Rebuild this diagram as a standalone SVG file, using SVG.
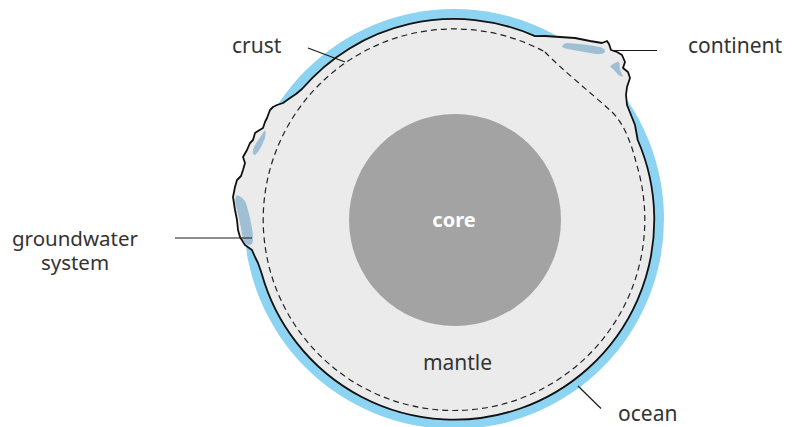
<svg xmlns="http://www.w3.org/2000/svg" width="795" height="427" viewBox="0 0 795 427">
  <style>
    .label { font-family: "Noto Sans", "Liberation Sans", sans-serif; font-size: 21px; fill: #333333; }
    .core-label { font-family: "Noto Sans", "Liberation Sans", sans-serif; font-size: 20px; font-weight: bold; fill: #ffffff; }
    .leader { stroke: #1a1a1a; stroke-width: 1.2; fill: none; }
    .water { fill: #9fc0d4; }
  </style>

  <rect width="795" height="427" fill="#ffffff"/>

  <!-- ocean shell -->
  <g id="ocean">
    <circle cx="454" cy="219" r="210" fill="#8dd3f2"/>
  </g>

  <!-- solid Earth with the two continents breaking the outline -->
  <g id="land">
    <path d="M261.5,273
             A200,200 0 1 0 637.7,140
             L635,125 L631,115 L627,105 L626,95 L627,87 L630,78 L628,72 L623,68 L625,62 L622,55 L617,52 L611,50 L609,44 L607,41 L602,43 L590,41 L575,38 L560,37 L545,36 L535,36.1
             A200,200 0 0 0 302,89
             L296,94 L290,98 L283,103 L277,105 L273,107 L270,110 L267,118 L265,122 L263,128 L258,131 L255,133 L253,140 L250,143 L247,150 L243,157 L245,163 L243,170 L241,176 L237,180 L235,187 L233,197 L235,210 L237,220 L238,230 L240,237 L245,245 L252,250 L255,257 L258,263 Z"
          fill="#ebebeb" stroke="#111111" stroke-width="1.8" stroke-linejoin="round"/>
  </g>

  <!-- groundwater pockets in the continental crust -->
  <g id="groundwater">
    <path class="water" d="M265,130 Q267,136 263,143 Q259,152 255,155 Q252,155 253,150 Q255,144 259,139 Q262,134 265,130 Z"/>
    <path class="water" d="M237,195 Q243,197 246,203 Q250,216 252,228 Q254,240 252,244 Q248,247 244,242 Q242,236 241,228 Q239,218 236,206 Q234,198 237,195 Z"/>
    <path class="water" d="M562,46 Q564,43 568,43 Q585,44 600,47 Q606,49 605,52 Q602,55 596,54 Q583,52 568,49 Q562,48 562,46 Z"/>
    <path class="water" d="M610,66.5 Q614,63 618,61.5 Q620,62 619.5,67 Q621,73 623,76.5 Q619,77 615,71 Q612,68 610,66.5 Z"/>
  </g>

  <!-- base of the crust (thicker under the continent) -->
  <g id="crust-base">
    <path d="M545,52 C560,68 590,92 612,112 C624,124 631,142 636.8,165 A190.8,190.8 0 1 1 545,52"
          fill="none" stroke="#222222" stroke-width="1.2" stroke-dasharray="6 4"/>
  </g>

  <g id="core">
    <circle cx="455" cy="220" r="106" fill="#a3a3a3"/>
    <text class="core-label" x="454" y="227" text-anchor="middle">core</text>
  </g>

  <g id="mantle">
    <text class="label" x="457.5" y="370" text-anchor="middle">mantle</text>
  </g>

  <!-- callout texts -->
  <g id="labels">
    <text class="label" x="232" y="53">crust</text>
    <text class="label" x="688" y="53">continent</text>
    <text class="label" x="75" y="246" text-anchor="middle" style="font-size:20.5px">groundwater</text>
    <text class="label" x="75" y="270" text-anchor="middle" style="font-size:20.5px">system</text>
    <text class="label" x="618" y="421">ocean</text>
  </g>

  <!-- leader lines -->
  <g id="connectors">
    <line class="leader" x1="308" y1="48" x2="345" y2="62"/>
    <line class="leader" x1="611" y1="50.5" x2="657" y2="50.5"/>
    <line class="leader" x1="175" y1="238" x2="252" y2="238"/>
    <line class="leader" x1="578" y1="386" x2="601" y2="408.5"/>
  </g>
</svg>
